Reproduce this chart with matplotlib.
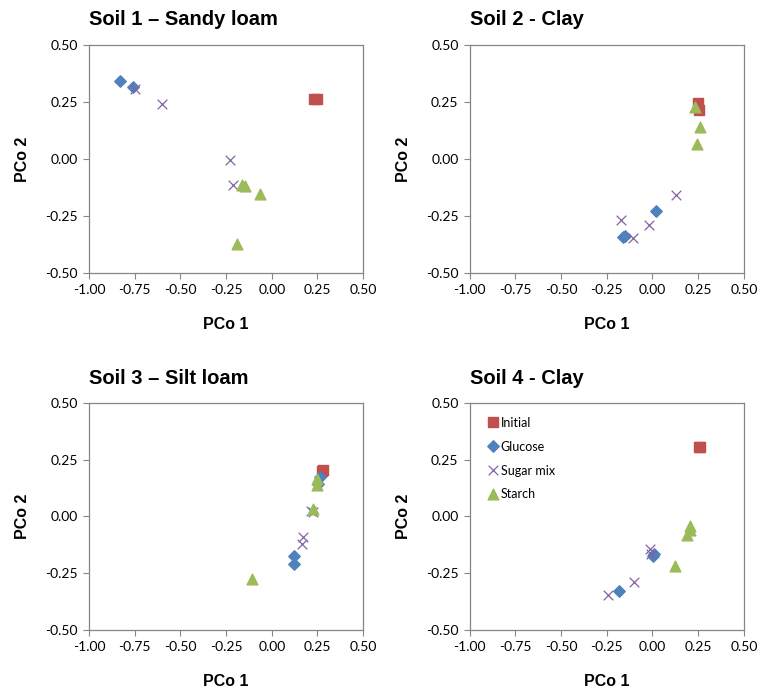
import matplotlib
matplotlib.use('Agg')
import matplotlib.pyplot as plt

plt.rcParams['font.family'] = ['Liberation Sans', 'DejaVu Sans']

titles = ['Soil 1 – Sandy loam', 'Soil 2 - Clay', 'Soil 3 – Silt loam', 'Soil 4 - Clay']
series = ['Initial', 'Glucose', 'Sugar mix', 'Starch']

# PCo 1 / PCo 2 per soil, per treatment
initial_x = [[0.23, 0.245], [0.25, 0.255], [0.275, 0.28], [0.255, 0.262]]
initial_y = [[0.265, 0.265], [0.245, 0.215], [0.20, 0.205], [0.306, 0.306]]

glucose_x = [[-0.83, -0.76], [0.02, -0.16, -0.15], [0.262, 0.255, 0.122, 0.12], [0.01, 0.005, -0.184]]
glucose_y = [[0.34, 0.315], [-0.228, -0.342, -0.336], [0.175, 0.145, -0.172, -0.208], [-0.166, -0.172, -0.328]]

sugar_x = [[-0.75, -0.60, -0.23, -0.21], [-0.17, -0.107, -0.02, 0.13],
           [0.212, 0.225, 0.172, 0.165], [-0.014, -0.008, -0.102, -0.243]]
sugar_y = [[0.305, 0.24, -0.005, -0.115], [-0.268, -0.348, -0.29, -0.16],
           [0.022, 0.018, -0.09, -0.12], [-0.144, -0.166, -0.287, -0.344]]

starch_x = [[-0.165, -0.145, -0.065, -0.19], [0.232, 0.258, 0.244],
            [0.245, 0.25, 0.225, -0.11], [0.205, 0.208, 0.19, 0.121]]
starch_y = [[-0.115, -0.12, -0.155, -0.375], [0.228, 0.14, 0.065],
            [0.165, 0.14, 0.035, -0.275], [-0.042, -0.06, -0.082, -0.22]]

xticks = [-1.00, -0.75, -0.50, -0.25, 0.00, 0.25, 0.50]
yticks = [-0.50, -0.25, 0.00, 0.25, 0.50]

colors = ['#C0504D', '#4F81BD', '#8064A2', '#9BBB59']
gray = '#868686'

fig = plt.figure(figsize=(7.7, 6.91), dpi=100)
positions = [[0.1156, 0.605, 0.356, 0.330], [0.610, 0.605, 0.356, 0.330],
             [0.1156, 0.0883, 0.356, 0.3285], [0.610, 0.0883, 0.356, 0.3285]]

for i in range(4):
    ax = fig.add_axes(positions[i])
    ax.scatter(initial_x[i], initial_y[i], marker='s', s=60, color=colors[0], label=series[0], zorder=3)
    ax.scatter(glucose_x[i], glucose_y[i], marker='D', s=34, color=colors[1], label=series[1], zorder=3)
    ax.scatter(sugar_x[i], sugar_y[i], marker='x', s=48, color=colors[2], linewidths=0.9, label=series[2], zorder=3)
    ax.scatter(starch_x[i], starch_y[i], marker='^', s=60, color=colors[3], label=series[3], zorder=3)

    ax.set_xlim(-1.0, 0.5)
    ax.set_ylim(-0.5, 0.5)
    ax.set_xticks(xticks)
    ax.set_yticks(yticks)
    ax.set_xticklabels([f'{v:.2f}' for v in xticks], family=['Lato', 'DejaVu Sans'])
    ax.set_yticklabels([f'{v:.2f}' for v in yticks], family=['Lato', 'DejaVu Sans'])
    ax.tick_params(direction='out', length=4, width=0.8, color=gray, labelsize=10, pad=4)
    for sp in ax.spines.values():
        sp.set_color(gray)
        sp.set_linewidth(0.9)

    ax.set_title(titles[i], loc='left', fontsize=14.5, fontweight='bold', pad=14)
    ax.set_xlabel('PCo 1', fontsize=11.5, fontweight='bold', labelpad=15)
    ax.set_ylabel('PCo 2', fontsize=11.5, fontweight='bold', labelpad=11)

    if i == 3:
        ax.legend(loc='upper left', bbox_to_anchor=(0.04, 0.972), frameon=False,
                  prop={'family': ['Lato', 'DejaVu Sans'], 'size': 9},
                  labelspacing=0.95, handletextpad=0.3, handlelength=0.7,
                  scatterpoints=1, scatteryoffsets=[0.5], borderaxespad=0.2)

fig.savefig('out.png', dpi=100)
